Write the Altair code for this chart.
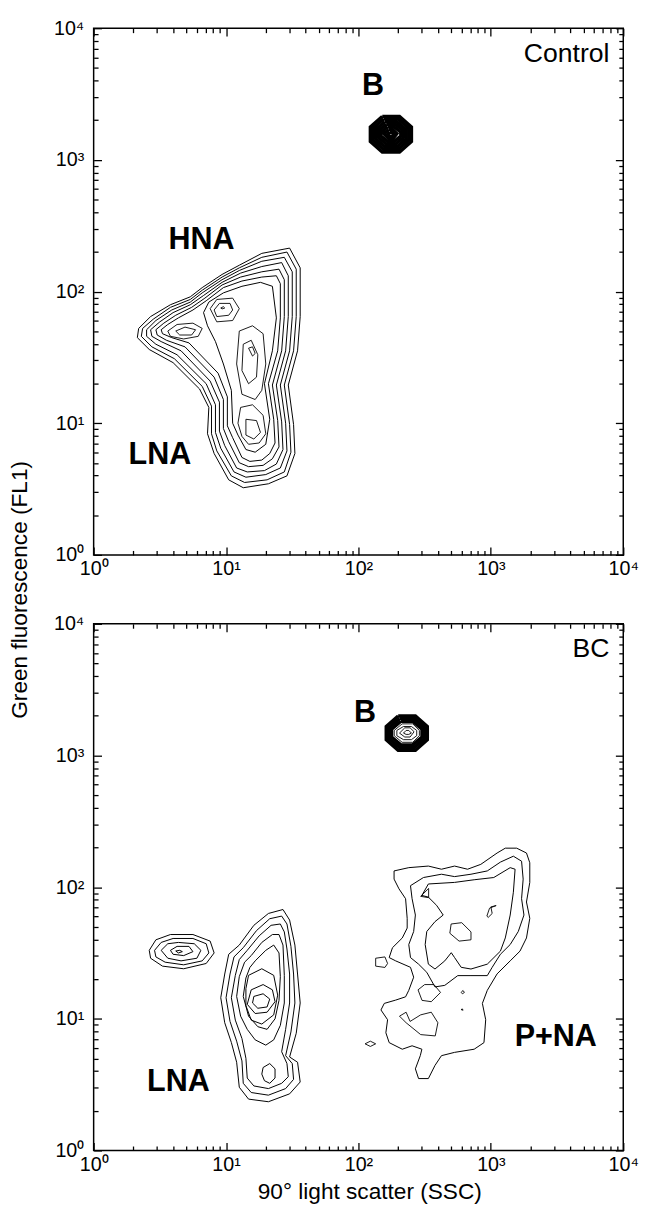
import altair as alt
import pandas as pd

# ---------------- data (log10 units) ----------------
MAJOR = [1, 10, 100, 1000, 10000]
MINOR = [m * 10 ** k for k in range(4) for m in range(2, 10)]
TICK_TEXT = ["10⁰", "10¹", "10²", "10³", "10⁴"]

# Control panel: HNA / LNA envelope rings
CTRL_MAIN = [
    [(1.48,2.33),(1.27,2.29),(1.10,2.20),(0.97,2.13),(0.82,2.03),(0.73,1.96),(0.58,1.90),(0.43,1.81),(0.34,1.72),(0.33,1.65),(0.42,1.56),(0.60,1.46),(0.80,1.26),(0.87,1.12),(0.86,0.92),(0.91,0.77),(1.02,0.57),(1.13,0.51),(1.32,0.54),(1.46,0.60),(1.52,0.77),(1.51,0.99),(1.47,1.29),(1.54,1.55),(1.56,1.81),(1.56,2.18)],
    [(1.46,2.30),(1.27,2.26),(1.10,2.18),(0.97,2.11),(0.82,2.01),(0.73,1.94),(0.58,1.88),(0.45,1.79),(0.37,1.72),(0.36,1.66),(0.44,1.58),(0.61,1.49),(0.82,1.28),(0.89,1.13),(0.89,0.92),(0.93,0.79),(1.04,0.60),(1.14,0.55),(1.31,0.57),(1.44,0.63),(1.49,0.78),(1.48,0.99),(1.44,1.29),(1.51,1.55),(1.53,1.81),(1.53,2.17)],
    [(1.44,2.26),(1.27,2.23),(1.10,2.16),(0.97,2.09),(0.82,1.99),(0.73,1.92),(0.59,1.86),(0.47,1.78),(0.40,1.71),(0.40,1.66),(0.47,1.60),(0.63,1.52),(0.85,1.30),(0.92,1.14),(0.92,0.93),(0.96,0.81),(1.06,0.63),(1.15,0.59),(1.30,0.61),(1.41,0.66),(1.46,0.79),(1.45,1.00),(1.41,1.29),(1.48,1.55),(1.50,1.81),(1.50,2.15)],
    [(1.42,2.22),(1.27,2.19),(1.11,2.14),(0.97,2.07),(0.83,1.97),(0.73,1.90),(0.60,1.84),(0.50,1.77),(0.43,1.71),(0.44,1.66),(0.51,1.62),(0.66,1.55),(0.88,1.32),(0.95,1.16),(0.95,0.94),(0.99,0.83),(1.08,0.66),(1.16,0.63),(1.29,0.64),(1.38,0.69),(1.43,0.80),(1.42,1.01),(1.38,1.29),(1.45,1.55),(1.47,1.81),(1.47,2.12)],
    [(1.40,2.17),(1.27,2.15),(1.11,2.11),(0.97,2.05),(0.84,1.95),(0.74,1.88),(0.62,1.82),(0.53,1.76),(0.47,1.71),(0.48,1.67),(0.55,1.63),(0.69,1.58),(0.91,1.35),(0.98,1.18),(0.98,0.96),(1.02,0.86),(1.10,0.70),(1.17,0.67),(1.28,0.68),(1.35,0.73),(1.40,0.82),(1.39,1.02),(1.35,1.29),(1.42,1.55),(1.44,1.81),(1.44,2.09)],
    [(1.38,2.12),(1.27,2.11),(1.12,2.08),(0.98,2.03),(0.85,1.93),(0.75,1.86),(0.64,1.80),(0.56,1.75),(0.51,1.71),(0.52,1.68),(0.59,1.65),(0.72,1.61),(0.94,1.38),(1.01,1.20),(1.01,0.98),(1.05,0.89),(1.12,0.74),(1.18,0.71),(1.27,0.72),(1.33,0.77),(1.37,0.85),(1.36,1.03),(1.32,1.30),(1.39,1.55),(1.41,1.80),(1.41,2.06)],
    [(1.35,2.04),(1.26,2.07),(1.12,2.04),(0.98,1.99),(0.87,1.92),(0.83,1.84),(0.86,1.74),(0.92,1.62),(0.98,1.45),(1.04,1.25),(1.05,1.00),(1.09,0.91),(1.15,0.80),(1.22,0.78),(1.30,0.84),(1.33,1.03),(1.29,1.30),(1.35,1.55),(1.38,1.80)],
]
# Control panel: inner peaks (HNA peak, column, lower column, left tongue)
CTRL_INNER = [
    [(0.88,1.87),(0.93,1.94),(1.05,1.95),(1.10,1.87),(1.05,1.78),(0.93,1.77)],
    [(0.91,1.86),(0.95,1.91),(1.03,1.91),(1.05,1.86),(1.02,1.82),(0.93,1.81)],
    [(0.96,1.875),(0.98,1.885),(0.99,1.875),(0.97,1.868)],
    [(1.10,1.70),(1.20,1.74),(1.28,1.68),(1.30,1.45),(1.27,1.25),(1.22,1.18),(1.12,1.22),(1.08,1.45)],
    [(1.13,1.60),(1.19,1.63),(1.24,1.52),(1.23,1.35),(1.17,1.30),(1.12,1.40)],
    [(1.17,1.57),(1.20,1.58),(1.22,1.53),(1.20,1.51)],
    [(1.11,1.12),(1.20,1.14),(1.28,1.06),(1.30,0.92),(1.25,0.85),(1.17,0.84),(1.12,0.90),(1.09,1.00)],
    [(1.15,1.03),(1.23,1.02),(1.26,0.93),(1.21,0.88),(1.15,0.91)],
    [(0.56,1.70),(0.63,1.75),(0.75,1.76),(0.82,1.72),(0.79,1.66),(0.68,1.64),(0.58,1.66)],
    [(0.62,1.70),(0.69,1.73),(0.77,1.71),(0.74,1.67),(0.65,1.67)],
]
# Control panel: bead cluster B (dense rings)
CTRL_B = [
    [(2.18,3.33),(2.31,3.33),(2.40,3.25),(2.40,3.14),(2.31,3.06),(2.18,3.06),(2.09,3.14),(2.09,3.25)],
    [(2.19,3.31),(2.30,3.31),(2.38,3.24),(2.38,3.15),(2.30,3.08),(2.19,3.08),(2.11,3.15),(2.11,3.24)],
    [(2.20,3.29),(2.29,3.29),(2.36,3.23),(2.36,3.16),(2.29,3.10),(2.20,3.10),(2.13,3.16),(2.13,3.23)],
    [(2.21,3.27),(2.28,3.27),(2.34,3.22),(2.34,3.17),(2.28,3.12),(2.21,3.12),(2.15,3.17),(2.15,3.22)],
    [(2.22,3.25),(2.27,3.25),(2.32,3.21),(2.32,3.18),(2.27,3.14),(2.22,3.14),(2.17,3.18),(2.17,3.21)],
    [(2.23,3.23),(2.26,3.23),(2.29,3.20),(2.26,3.16),(2.23,3.16),(2.19,3.20)],
    [(2.235,3.21),(2.255,3.21),(2.27,3.195),(2.255,3.18),(2.235,3.18),(2.22,3.195)],
]
CTRL_LABELS = ["B", "HNA", "LNA"]
CTRL_LABEL_LX = [2.11, 0.815, 0.50]
CTRL_LABEL_LY = [3.56, 2.39, 0.76]

# BC panel: LNA, small left cluster, P+NA
BC_MAIN = [
    [(1.10,1.56),(1.21,1.71),(1.32,1.80),(1.43,1.83),(1.48,1.75),(1.52,1.56),(1.54,1.34),(1.56,1.12),(1.53,0.89),(1.48,0.71),(1.54,0.67),(1.56,0.52),(1.48,0.43),(1.32,0.37),(1.17,0.39),(1.10,0.48),(1.08,0.67),(1.04,0.82),(0.99,0.97),(0.96,1.16),(0.99,1.34),(1.02,1.49)],
    [(1.13,1.54),(1.23,1.67),(1.33,1.76),(1.42,1.78),(1.46,1.72),(1.49,1.55),(1.51,1.34),(1.52,1.12),(1.49,0.90),(1.45,0.72),(1.50,0.66),(1.51,0.54),(1.45,0.47),(1.32,0.42),(1.19,0.44),(1.13,0.51),(1.12,0.68),(1.08,0.83),(1.03,0.98),(1.00,1.16),(1.03,1.34),(1.06,1.47)],
    [(1.16,1.52),(1.25,1.63),(1.34,1.71),(1.41,1.72),(1.44,1.66),(1.46,1.53),(1.48,1.34),(1.48,1.12),(1.45,0.92),(1.42,0.75),(1.46,0.66),(1.47,0.56),(1.42,0.51),(1.32,0.47),(1.21,0.49),(1.16,0.55),(1.15,0.70),(1.12,0.85),(1.07,0.99),(1.04,1.16),(1.07,1.33),(1.10,1.45)],
    [(1.19,1.48),(1.27,1.58),(1.35,1.64),(1.40,1.64),(1.43,1.56),(1.44,1.33),(1.44,1.12),(1.41,0.95),(1.36,0.84),(1.30,0.80),(1.22,0.84),(1.16,0.92),(1.11,1.02),(1.08,1.17),(1.10,1.32),(1.14,1.43)],
    [(1.22,1.44),(1.30,1.52),(1.36,1.56),(1.40,1.50),(1.41,1.32),(1.40,1.14),(1.37,1.00),(1.31,0.92),(1.24,0.94),(1.17,1.02),(1.13,1.17),(1.15,1.31),(1.18,1.39)],
    [(1.17,1.33),(1.27,1.38),(1.36,1.33),(1.39,1.18),(1.36,1.03),(1.27,0.96),(1.19,0.99),(1.15,1.10),(1.15,1.23)],
    [(1.19,1.22),(1.28,1.26),(1.35,1.22),(1.37,1.13),(1.31,1.05),(1.22,1.04),(1.16,1.11)],
    [(1.21,1.17),(1.28,1.19),(1.33,1.15),(1.31,1.09),(1.24,1.08),(1.20,1.12)],
    [(1.28,0.63),(1.33,0.66),(1.37,0.62),(1.37,0.55),(1.33,0.51),(1.29,0.53),(1.27,0.58)],
    [(0.42,1.52),(0.47,1.60),(0.58,1.64),(0.75,1.64),(0.88,1.59),(0.91,1.50),(0.85,1.42),(0.68,1.38),(0.52,1.40),(0.43,1.46)],
    [(0.46,1.52),(0.51,1.58),(0.60,1.61),(0.75,1.61),(0.85,1.57),(0.87,1.50),(0.82,1.44),(0.68,1.41),(0.54,1.43),(0.47,1.47)],
    [(0.51,1.52),(0.56,1.57),(0.64,1.58),(0.76,1.57),(0.81,1.52),(0.78,1.46),(0.66,1.44),(0.56,1.46)],
    [(0.58,1.52),(0.63,1.55),(0.72,1.55),(0.75,1.51),(0.68,1.48),(0.60,1.49)],
    [(0.62,1.515),(0.65,1.52),(0.67,1.51),(0.64,1.50)],
    [(2.269,2.123),(2.380,2.148),(2.528,2.160),(2.627,2.136),(2.726,2.160),(2.824,2.136),(2.924,2.173),(3.047,2.259),(3.109,2.296),(3.195,2.296),(3.269,2.259),(3.294,2.185),(3.294,2.036),(3.269,1.887),(3.294,1.763),(3.269,1.614),(3.220,1.514),(3.146,1.440),(3.047,1.341),(2.973,1.216),(2.936,1.117),(2.961,0.993),(2.948,0.819),(2.874,0.769),(2.726,0.745),(2.627,0.720),(2.578,0.646),(2.528,0.546),(2.454,0.546),(2.430,0.620),(2.467,0.720),(2.479,0.769),(2.405,0.795),(2.331,0.769),(2.232,0.819),(2.207,0.894),(2.220,0.993),(2.170,1.067),(2.195,1.117),(2.281,1.142),(2.356,1.167),(2.380,1.216),(2.417,1.316),(2.393,1.391),(2.281,1.440),(2.232,1.465),(2.257,1.540),(2.331,1.614),(2.368,1.689),(2.368,1.763),(2.356,1.912),(2.306,1.987),(2.269,2.061)],
    [(2.393,2.011),(2.491,2.073),(2.627,2.098),(2.726,2.080),(2.850,2.098),(2.973,2.123),(3.072,2.190),(3.170,2.235),(3.232,2.197),(3.244,2.061),(3.232,1.912),(3.250,1.788),(3.207,1.663),(3.146,1.564),(3.072,1.490),(3.010,1.391),(2.973,1.328),(2.850,1.328),(2.750,1.328),(2.652,1.254),(2.578,1.242),(2.516,1.353),(2.454,1.415),(2.393,1.465),(2.380,1.564),(2.417,1.663),(2.430,1.788),(2.405,1.912)],
    [(2.528,2.024),(2.726,2.036),(2.874,2.056),(3.022,2.073),(3.146,2.148),(3.183,2.136),(3.170,1.961),(3.146,1.788),(3.109,1.614),(3.072,1.514),(2.973,1.415),(2.850,1.378),(2.776,1.391),(2.726,1.465),(2.701,1.502),(2.652,1.440),(2.578,1.378),(2.528,1.415),(2.504,1.564),(2.516,1.663),(2.578,1.738),(2.640,1.788),(2.590,1.862),(2.528,1.924),(2.479,1.937)],
]
# BC panel: small islands and inner bead rings
BC_INNER = [
    [(2.70,1.72),(2.78,1.73),(2.85,1.66),(2.85,1.60),(2.76,1.59),(2.69,1.65)],
    [(2.47,1.93),(2.53,1.99),(2.53,1.92)],
    [(2.97,1.78),(2.99,1.84),(3.04,1.86),(3.00,1.85),(3.01,1.80),(2.98,1.77)],
    [(2.13,1.40),(2.13,1.46),(2.20,1.47),(2.22,1.42),(2.20,1.39)],
    [(2.45,1.22),(2.50,1.26),(2.57,1.26),(2.62,1.20),(2.55,1.13),(2.48,1.14)],
    [(2.775,1.20),(2.79,1.215),(2.80,1.20),(2.785,1.19)],
    [(2.775,1.07),(2.785,1.075),(2.79,1.065)],
    [(2.31,1.02),(2.36,1.05),(2.39,0.98),(2.47,1.03),(2.55,1.05),(2.60,0.97),(2.58,0.87),(2.47,0.88),(2.36,0.97)],
    [(2.05,0.81),(2.09,0.83),(2.13,0.81),(2.09,0.79)],
    [(2.33,3.24),(2.41,3.24),(2.46,3.19),(2.46,3.15),(2.41,3.10),(2.33,3.10),(2.27,3.15),(2.27,3.19)],
    [(2.34,3.22),(2.40,3.22),(2.44,3.19),(2.44,3.15),(2.40,3.12),(2.34,3.12),(2.29,3.15),(2.29,3.19)],
    [(2.35,3.21),(2.39,3.21),(2.42,3.18),(2.39,3.14),(2.35,3.14),(2.31,3.17)],
    [(2.36,3.19),(2.38,3.19),(2.40,3.17),(2.38,3.16),(2.36,3.16),(2.34,3.17)],
]
BC_B = [
    [(2.30,3.30),(2.43,3.30),(2.52,3.22),(2.52,3.12),(2.43,3.04),(2.30,3.04),(2.21,3.12),(2.21,3.22)],
    [(2.31,3.28),(2.42,3.28),(2.50,3.21),(2.50,3.13),(2.42,3.06),(2.31,3.06),(2.23,3.13),(2.23,3.21)],
    [(2.32,3.26),(2.41,3.26),(2.48,3.20),(2.48,3.14),(2.41,3.08),(2.32,3.08),(2.25,3.14),(2.25,3.20)],
]
BC_LABELS = ["B", "LNA", "P+NA"]
BC_LABEL_LX = [2.05, 0.64, 3.49]
BC_LABEL_LY = [3.32, 0.52, 0.86]

PANEL_NAMES = ["Control", "BC"]
X_TITLE = "90° light scatter (SSC)"
Y_TITLE = "Green fluorescence (FL1)"

# ---------------- helpers ----------------
FONT = "Liberation Sans"
W, H = 538, 535
SCALE = alt.Scale(type="log", domain=[1, 10000], nice=False)
LABEL_EXPR = " : ".join(
    f"datum.value == {v} ? '{t}'" for v, t in zip(MAJOR[:-1], TICK_TEXT[:-1])
) + f" : '{TICK_TEXT[-1]}'"


def ring_frame(rings, tag):
    rows = []
    for i, ring in enumerate(rings):
        pts = list(ring) + [ring[0]]
        for k, (lx, ly) in enumerate(pts):
            rows.append({"ring": f"{tag}{i}", "k": k, "x": 10 ** lx, "y": 10 ** ly})
    return pd.DataFrame(rows)


def label_frame(texts, lxs, lys):
    return pd.DataFrame({"t": texts, "x": [10 ** v for v in lxs], "y": [10 ** v for v in lys]})


def lab_axis(orient, **kw):
    return alt.Axis(orient=orient, values=MAJOR, tickSize=8, offset=-8, labels=True,
                    labelExpr=LABEL_EXPR, labelFontSize=20,
                    labelPadding=10 if orient == "left" else 4,
                    labelFlush=False, labelOverlap=False, **kw)


def tick_axis(orient, vals, size):
    return alt.Axis(orient=orient, values=vals, tickSize=size, offset=-size, labels=False)


def panel(main, inner, dense, labels, name, top):
    if top:
        yax = lab_axis("left", titleX=-83, titleY=H + 35, titleBaseline="middle",
                       titleFontSize=23, titleFontWeight="normal")
        ytitle = Y_TITLE
        xax = lab_axis("bottom")
        xtitle = None
    else:
        yax = lab_axis("left")
        ytitle = None
        xax = lab_axis("bottom", titleX=280, titleY=50, titleBaseline="middle",
                       titleFontSize=23, titleFontWeight="normal")
        xtitle = X_TITLE

    l_main = alt.Chart(ring_frame(main, "m")).mark_line(color="black", strokeWidth=1).encode(
        x=alt.X("x:Q", scale=SCALE, axis=xax, title=xtitle),
        y=alt.Y("y:Q", scale=SCALE, axis=yax, title=ytitle),
        detail="ring:N", order="k:Q")
    l_inner = alt.Chart(ring_frame(inner, "i")).mark_line(color="black", strokeWidth=0.9).encode(
        x=alt.X("x:Q", scale=SCALE, axis=tick_axis("bottom", MINOR, 4.5), title=None),
        y=alt.Y("y:Q", scale=SCALE, axis=tick_axis("left", MINOR, 4.5), title=None),
        detail="ring:N", order="k:Q")
    l_dense = alt.Chart(ring_frame(dense, "d")).mark_line(color="black", strokeWidth=3.5).encode(
        x=alt.X("x:Q", scale=SCALE, axis=tick_axis("top", MAJOR, 8), title=None),
        y=alt.Y("y:Q", scale=SCALE, axis=tick_axis("right", MAJOR, 8), title=None),
        detail="ring:N", order="k:Q")
    l_text = alt.Chart(labels).mark_text(font=FONT, fontWeight="bold", fontSize=31,
                                         align="center", baseline="middle", color="black").encode(
        x=alt.X("x:Q", scale=SCALE, axis=tick_axis("top", MINOR, 4.5), title=None),
        y=alt.Y("y:Q", scale=SCALE, axis=tick_axis("right", MINOR, 4.5), title=None),
        text="t:N")
    l_name = alt.Chart(pd.DataFrame({"t": [name]})).mark_text(
        font=FONT, fontSize=27, align="right", baseline="middle", color="black").encode(
        x=alt.value(W - 14), y=alt.value(26), text="t:N")
    return alt.layer(l_main, l_inner, l_dense, l_text, l_name).resolve_axis(
        x="independent", y="independent").properties(width=W, height=H)


top = panel(CTRL_MAIN, CTRL_INNER, CTRL_B,
            label_frame(CTRL_LABELS, CTRL_LABEL_LX, CTRL_LABEL_LY), PANEL_NAMES[0], True)
bottom = panel(BC_MAIN, BC_INNER, BC_B,
               label_frame(BC_LABELS, BC_LABEL_LX, BC_LABEL_LY), PANEL_NAMES[1], False)

chart = alt.vconcat(top, bottom, spacing=70).properties(
    bounds="flush",
    padding={"left": 0, "top": 0, "right": 0, "bottom": 0},
    background="white",
).configure_view(stroke="black", strokeWidth=1.5).configure_axis(
    labelFont=FONT, titleFont=FONT, labelColor="black", titleColor="black",
    tickColor="black", tickWidth=1.3, domain=False, grid=False,
)

chart.save("out.html", embed_options={"renderer": "svg", "actions": False})
